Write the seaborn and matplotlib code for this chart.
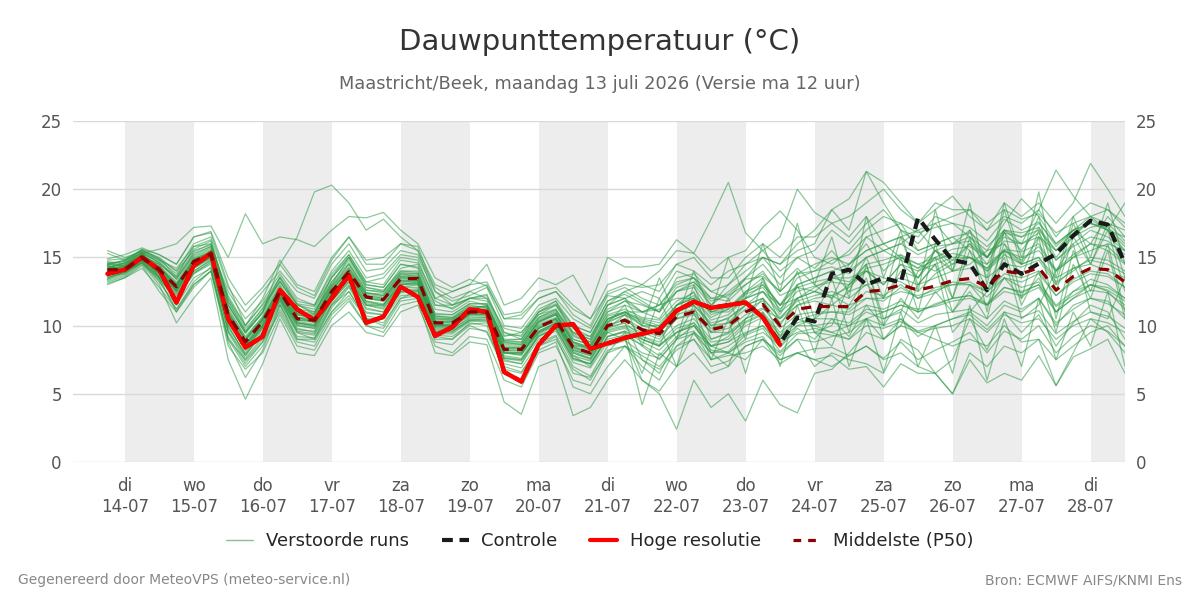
import numpy as np
import pandas as pd
import matplotlib
matplotlib.use("Agg")
import matplotlib.pyplot as plt
from matplotlib.lines import Line2D
import seaborn as sns

# -------------------------------
# Data (6-uurlijkse stappen, 13-07 18u t/m 28-07 12u)
# -------------------------------
times = pd.date_range("2026-07-13 18:00", periods=60, freq="6h")

# Hoge resolutie (loopt tot 23-07 12u)
hres = [13.8, 14.1, 15.0, 14.1, 11.7, 14.4, 15.3, 10.5, 8.4, 9.2,
        12.6, 11.2, 10.4, 12.0, 13.7, 10.2, 10.65, 12.85, 12.1, 9.25,
        9.9, 11.2, 11.0, 6.6, 5.9, 8.6, 10.0, 10.1, 8.3, 8.7,
        9.1, 9.4, 9.7, 11.1, 11.75, 11.3, 11.5, 11.7, 10.6, 8.6]

# Controle (eerste deel valt onder de HRES-lijn)
control = [13.8, 14.1, 15.0, 14.1, 11.7, 14.4, 15.3, 10.5, 8.4, 9.2,
           12.6, 11.2, 10.4, 12.0, 13.7, 10.2, 10.65, 12.85, 12.1, 9.25,
           9.9, 11.2, 11.0, 6.6, 5.9, 8.6, 10.0, 10.1, 8.3, 8.7,
           9.1, 9.4, 9.7, 11.1, 11.75, 11.3, 11.5, 11.7, 10.6, 8.7,
           10.6, 10.3, 13.8, 14.1, 13.0, 13.5, 13.15, 17.9, 16.3, 14.8,
           14.55, 12.6, 14.5, 13.8, 14.55, 15.25, 16.6, 17.7, 17.4, 14.55]

# Middelste (P50)
median = [14.1, 14.1, 15.0, 14.1, 12.85, 14.7, 15.25, 10.8, 8.8, 10.3,
          12.5, 10.5, 10.4, 12.5, 13.95, 12.1, 11.9, 13.45, 13.45, 10.2,
          10.2, 11.0, 11.0, 8.25, 8.25, 9.9, 10.45, 8.4, 8.0, 10.0,
          10.4, 9.7, 9.4, 10.65, 11.0, 9.7, 10.0, 11.0, 11.55, 10.0,
          11.2, 11.4, 11.4, 11.4, 12.5, 12.6, 13.0, 12.6, 12.9, 13.3,
          13.45, 12.85, 14.0, 13.8, 14.25, 12.6, 13.6, 14.2, 14.1, 13.2]

# Verstoorde runs (geschat uit de figuur)
perturbed = [
    [14.3, 14.5, 15.2, 14.4, 13.2, 15.0, 15.6, 11.3, 9.2, 10.6, 12.9, 10.9, 10.8, 13.0, 14.5, 12.6, 12.4, 13.9, 13.8, 10.7,
     10.6, 11.5, 11.3, 8.8, 8.6, 10.4, 10.9, 9.0, 8.6, 10.7, 11.0, 10.5, 10.2, 11.5, 12.0, 10.6, 11.2, 12.3, 12.8, 11.2,
     12.5, 12.9, 13.2, 13.0, 14.2, 14.5, 15.0, 14.2, 14.8, 15.3, 15.0, 14.2, 15.6, 15.4, 16.0, 14.1, 15.2, 16.0, 15.8, 14.6],
    [13.6, 13.8, 14.7, 13.5, 11.8, 13.9, 14.6, 9.5, 7.4, 8.8, 11.5, 9.2, 9.1, 11.3, 12.8, 10.7, 10.5, 12.2, 12.3, 9.3,
     9.2, 10.1, 10.2, 7.2, 6.9, 8.7, 9.3, 7.0, 6.3, 8.5, 8.9, 8.0, 7.6, 9.0, 9.4, 8.0, 8.1, 9.3, 9.8, 8.1,
     9.4, 9.5, 9.3, 9.0, 10.0, 9.8, 10.3, 9.6, 10.0, 10.5, 10.8, 9.7, 11.0, 10.6, 11.1, 9.4, 10.3, 11.0, 10.7, 9.8],
    [14.5, 14.8, 15.3, 15.6, 16.0, 17.2, 17.3, 15.0, 18.2, 16.0, 16.5, 16.3, 15.8, 17.0, 18.0, 17.9, 18.3, 17.0, 16.0, 13.5,
     12.8, 13.4, 12.9, 10.5, 10.8, 12.0, 12.5, 11.2, 10.5, 12.3, 12.8, 12.0, 11.5, 13.2, 13.5, 12.0, 12.3, 13.4, 13.6, 12.5,
     13.8, 14.0, 14.3, 13.8, 15.0, 15.5, 16.0, 15.2, 15.8, 16.0, 16.2, 15.0, 16.5, 16.0, 16.8, 14.8, 16.0, 17.0, 16.5, 15.5],
    [14.0, 14.3, 15.2, 14.0, 12.5, 14.9, 15.5, 11.5, 9.5, 11.0, 14.5, 16.5, 19.8, 20.3, 19.0, 17.0, 17.8, 16.5, 15.5, 12.0,
     11.5, 12.0, 12.3, 9.5, 9.2, 11.0, 11.6, 10.0, 9.5, 11.8, 12.3, 11.6, 11.0, 12.8, 13.2, 12.0, 11.8, 13.0, 14.0, 12.2,
     12.8, 12.5, 12.2, 11.5, 12.0, 11.8, 12.8, 12.0, 12.4, 13.2, 13.0, 12.1, 13.5, 12.8, 13.2, 11.5, 12.5, 13.4, 13.0, 12.0],
    [13.2, 13.6, 14.5, 13.0, 10.2, 12.0, 13.5, 7.5, 4.6, 7.2, 10.5, 8.0, 7.8, 10.0, 11.0, 9.5, 9.2, 11.0, 11.5, 8.5,
     8.0, 9.2, 9.0, 6.0, 5.5, 8.0, 8.5, 6.0, 5.6, 8.0, 8.5, 7.5, 6.8, 8.2, 9.0, 7.0, 7.4, 8.5, 9.0, 7.2,
     8.0, 8.3, 8.4, 7.8, 8.5, 7.6, 8.8, 7.5, 8.2, 8.8, 9.5, 8.0, 9.6, 9.0, 10.0, 8.0, 9.2, 10.0, 9.6, 8.5],
    [14.6, 14.3, 15.4, 14.8, 13.8, 15.6, 16.2, 12.0, 9.8, 11.2, 13.5, 11.5, 11.0, 13.0, 15.0, 12.8, 12.5, 14.2, 14.5, 11.5,
     11.5, 12.0, 12.2, 9.5, 9.0, 11.0, 11.8, 9.3, 8.8, 11.5, 12.0, 11.0, 10.5, 12.5, 12.8, 11.0, 11.5, 12.0, 13.0, 11.5,
     13.5, 14.0, 14.8, 15.2, 16.5, 17.0, 17.5, 16.8, 17.2, 17.5, 17.2, 16.2, 17.8, 17.0, 17.6, 15.8, 17.0, 17.5, 17.2, 16.0],
    [13.8, 14.0, 14.8, 13.8, 12.0, 14.2, 15.0, 10.0, 7.8, 9.5, 12.0, 10.0, 9.8, 11.8, 13.2, 11.2, 11.0, 12.8, 13.0, 9.8,
     9.8, 10.5, 10.6, 7.5, 7.2, 9.4, 10.0, 7.8, 7.0, 9.2, 9.5, 8.5, 7.5, 9.0, 10.0, 8.5, 8.0, 7.5, 9.0, 7.8,
     9.0, 7.0, 8.0, 7.5, 7.2, 6.5, 9.0, 8.2, 6.5, 7.5, 10.5, 8.2, 11.0, 9.5, 10.8, 8.5, 10.2, 11.5, 11.0, 9.0],
    [14.2, 14.6, 15.1, 14.5, 13.5, 15.2, 15.8, 12.5, 10.5, 11.8, 13.8, 12.0, 11.5, 14.0, 15.5, 13.5, 13.8, 15.2, 15.0, 12.5,
     11.8, 12.2, 12.8, 10.0, 9.8, 11.5, 12.0, 10.5, 9.8, 12.2, 12.0, 12.5, 12.0, 14.0, 13.5, 11.5, 13.0, 14.0, 15.0, 13.5,
     15.0, 14.2, 15.5, 14.0, 16.5, 15.5, 16.0, 17.0, 15.5, 14.8, 16.0, 14.5, 16.8, 15.5, 17.2, 15.0, 16.5, 17.8, 17.0, 15.5],
    [13.5, 13.9, 14.8, 13.6, 12.2, 14.0, 14.8, 9.8, 8.0, 9.8, 12.0, 9.8, 9.5, 12.0, 13.5, 11.5, 11.2, 13.0, 13.0, 9.5,
     9.6, 10.4, 10.5, 7.6, 7.5, 9.3, 9.8, 7.5, 7.2, 9.2, 9.6, 9.0, 8.5, 9.8, 10.2, 8.8, 9.0, 10.2, 10.8, 9.2,
     10.2, 10.5, 10.5, 10.2, 11.2, 11.0, 11.5, 11.2, 11.4, 11.8, 12.0, 11.5, 12.5, 12.2, 12.8, 11.0, 12.0, 12.6, 12.4, 11.5],
    [14.0, 14.2, 15.0, 13.8, 12.6, 14.4, 15.0, 10.5, 8.5, 10.2, 12.2, 10.2, 10.0, 12.2, 13.6, 11.8, 11.5, 13.0, 13.2, 10.0,
     10.0, 10.8, 10.8, 8.0, 8.0, 9.5, 10.2, 8.0, 7.5, 9.5, 9.0, 6.0, 5.0, 2.4, 6.0, 4.0, 5.0, 3.0, 6.0, 4.2,
     3.6, 6.5, 6.8, 8.0, 9.5, 9.0, 10.5, 9.2, 10.0, 10.5, 11.0, 10.0, 11.5, 11.0, 12.0, 10.0, 11.5, 12.0, 11.8, 10.5],
    [13.4, 13.8, 14.6, 13.2, 11.5, 13.5, 14.2, 9.0, 7.0, 8.5, 11.2, 9.0, 8.8, 11.0, 12.2, 10.5, 10.0, 12.0, 12.2, 9.0,
     9.0, 10.0, 9.5, 6.8, 6.5, 8.5, 9.0, 6.8, 6.0, 8.2, 8.5, 7.8, 7.0, 8.5, 9.0, 7.5, 7.8, 8.0, 8.5, 7.5,
     8.0, 7.5, 7.8, 6.8, 7.0, 5.5, 7.2, 6.5, 6.5, 5.0, 7.5, 5.8, 6.5, 6.0, 7.8, 5.6, 7.7, 8.3, 9.0, 6.5],
    [14.8, 14.9, 15.5, 15.0, 14.0, 16.0, 16.5, 12.8, 11.0, 12.5, 14.0, 12.5, 12.0, 14.5, 16.0, 14.0, 14.2, 15.5, 15.2, 12.8,
     12.0, 12.5, 13.0, 10.5, 10.5, 12.0, 12.5, 10.8, 10.0, 12.5, 13.0, 12.8, 13.0, 14.5, 14.0, 13.0, 14.0, 14.5, 15.0, 14.5,
     16.0, 17.0, 18.5, 17.0, 21.3, 20.5, 19.0, 17.5, 18.5, 19.5, 18.0, 17.0, 19.0, 18.0, 19.0, 17.5, 19.0, 21.9, 20.0, 18.0],
    [14.4, 14.0, 15.3, 14.2, 13.0, 14.8, 15.4, 11.0, 9.0, 10.5, 12.8, 10.8, 10.6, 12.6, 14.2, 12.2, 12.0, 13.6, 13.6, 10.4,
     10.4, 11.2, 11.2, 8.4, 8.4, 10.2, 10.8, 8.8, 8.2, 10.2, 11.5, 8.5, 12.0, 9.0, 13.0, 9.5, 12.0, 9.0, 13.5, 11.0,
     14.0, 10.5, 13.5, 9.5, 14.5, 10.0, 15.0, 11.0, 16.0, 12.0, 16.5, 11.0, 17.0, 12.0, 16.5, 10.5, 15.5, 12.5, 16.0, 11.0],
    [13.9, 14.2, 14.9, 14.3, 13.0, 14.5, 15.1, 10.6, 8.6, 10.0, 12.4, 10.6, 10.2, 12.3, 13.8, 12.0, 11.8, 13.3, 13.3, 10.1,
     10.1, 10.9, 11.0, 8.2, 8.1, 9.8, 10.5, 8.5, 8.0, 10.3, 10.8, 10.2, 9.8, 11.2, 11.8, 10.0, 10.2, 11.5, 12.0, 10.5,
     11.5, 12.0, 12.2, 12.8, 14.0, 13.5, 13.2, 12.5, 13.8, 14.5, 15.0, 14.0, 15.2, 14.5, 15.0, 13.5, 14.2, 14.5, 14.0, 13.5],
    [14.2, 14.4, 15.0, 14.0, 12.8, 14.6, 15.2, 10.9, 8.9, 10.4, 12.6, 10.6, 10.4, 12.7, 14.0, 12.3, 12.1, 13.5, 13.4, 10.5,
     10.4, 11.2, 11.5, 8.8, 8.8, 10.5, 11.0, 9.5, 9.0, 11.5, 12.5, 13.0, 14.0, 15.5, 15.3, 17.8, 20.5, 16.8, 15.5, 16.5,
     20.0, 18.3, 17.5, 16.5, 18.0, 16.0, 15.0, 14.5, 14.0, 14.8, 15.0, 14.2, 15.5, 14.5, 15.0, 13.2, 14.0, 15.0, 14.8, 14.0],
    [13.1, 13.5, 14.4, 12.5, 11.0, 12.8, 14.0, 8.5, 6.8, 8.0, 10.8, 8.5, 8.2, 10.5, 11.8, 10.0, 9.5, 11.5, 11.8, 8.0,
     7.8, 8.8, 8.6, 4.4, 3.5, 7.0, 7.5, 3.4, 4.0, 6.0, 7.5, 6.0, 5.2, 7.0, 8.0, 6.5, 7.0, 8.5, 9.0, 8.0,
     9.0, 8.8, 9.2, 9.5, 10.5, 11.0, 11.5, 11.0, 11.5, 12.0, 12.2, 11.5, 12.8, 12.5, 13.0, 11.0, 12.0, 13.0, 12.8, 12.0],
    [14.6, 14.7, 15.5, 14.8, 14.2, 15.8, 16.0, 12.2, 10.0, 11.5, 13.2, 11.5, 11.2, 13.5, 15.0, 13.0, 12.8, 14.5, 14.2, 11.2,
     11.0, 11.8, 11.5, 9.0, 9.0, 10.8, 11.2, 9.2, 8.8, 11.0, 11.8, 11.0, 11.2, 12.5, 13.0, 11.5, 12.5, 13.5, 15.0, 14.5,
     15.5, 16.0, 18.5, 19.3, 21.3, 19.0, 17.0, 16.0, 17.5, 16.0, 17.0, 15.0, 16.8, 16.5, 17.0, 15.5, 16.5, 17.2, 17.5, 16.2],
    [13.7, 14.0, 14.7, 13.7, 12.4, 14.2, 14.9, 10.2, 8.2, 9.9, 12.0, 10.0, 9.8, 12.0, 13.3, 11.5, 11.3, 12.8, 12.8, 9.7,
     9.7, 10.6, 10.6, 7.8, 7.6, 9.5, 10.1, 7.8, 7.4, 9.5, 9.8, 9.0, 8.5, 9.5, 10.0, 8.5, 8.8, 9.5, 10.0, 8.8,
     9.5, 9.8, 9.5, 10.0, 10.5, 10.0, 10.5, 9.5, 9.8, 10.0, 10.5, 9.5, 10.8, 10.2, 10.5, 9.0, 10.0, 10.5, 10.2, 9.5],
    [14.0, 14.1, 15.1, 14.2, 13.0, 14.8, 15.3, 11.0, 9.0, 10.5, 12.7, 10.8, 10.6, 12.8, 14.2, 12.4, 12.2, 13.7, 13.7, 10.6,
     10.5, 11.3, 11.4, 8.6, 8.6, 10.3, 10.8, 8.8, 8.4, 10.5, 10.9, 10.4, 10.0, 11.5, 12.2, 11.0, 11.3, 12.5, 13.0, 11.5,
     13.0, 13.5, 14.0, 14.5, 15.5, 16.0, 16.5, 17.0, 17.5, 18.0, 18.5, 17.5, 18.5, 17.8, 18.2, 16.8, 17.5, 18.0, 18.5, 17.2],
    [13.5, 13.9, 14.8, 13.9, 12.7, 14.3, 15.0, 10.3, 8.4, 9.8, 12.1, 10.1, 9.9, 12.1, 13.4, 11.6, 11.4, 13.0, 13.1, 9.9,
     9.9, 10.7, 10.7, 8.0, 7.9, 9.6, 10.2, 8.0, 7.6, 9.6, 9.9, 9.2, 8.6, 9.5, 10.0, 8.2, 8.0, 8.8, 9.2, 7.5,
     8.0, 7.5, 7.0, 7.8, 8.5, 7.5, 8.0, 7.0, 6.5, 5.0, 8.0, 7.0, 8.5, 8.0, 9.0, 7.5, 8.5, 9.5, 10.0, 8.5],
    [14.1, 14.2, 15.0, 14.2, 12.9, 14.6, 15.2, 10.8, 8.7, 10.3, 12.4, 10.4, 10.3, 12.4, 13.9, 12.0, 11.9, 13.4, 13.4, 10.2,
     10.3, 11.1, 11.1, 8.3, 8.3, 10.0, 10.5, 8.4, 8.0, 10.0, 10.5, 9.8, 9.5, 10.8, 11.2, 9.8, 10.2, 11.2, 11.8, 10.2,
     11.5, 11.8, 11.5, 11.2, 12.5, 12.2, 13.0, 12.0, 12.8, 13.0, 13.2, 12.5, 13.8, 13.5, 14.0, 12.2, 13.4, 14.0, 13.8, 12.8],
    [14.3, 14.6, 15.3, 14.6, 13.6, 15.4, 16.0, 11.8, 9.6, 11.0, 13.6, 11.8, 11.5, 13.8, 15.2, 13.2, 13.0, 14.8, 14.6, 12.0,
     12.5, 13.0, 14.5, 11.5, 12.0, 13.5, 13.0, 13.7, 11.5, 15.0, 14.3, 14.3, 14.5, 16.3, 15.3, 14.0, 15.0, 15.5, 17.2, 18.4,
     17.0, 15.0, 14.5, 15.5, 17.0, 18.0, 17.5, 15.5, 16.0, 16.5, 15.5, 14.0, 15.5, 14.8, 15.8, 14.0, 15.0, 16.0, 15.5, 14.5],
    [13.3, 13.7, 14.6, 13.4, 12.0, 13.8, 14.5, 9.6, 7.6, 9.2, 11.6, 9.5, 9.3, 11.5, 12.9, 10.9, 10.8, 12.4, 12.6, 9.4,
     9.4, 10.3, 10.3, 7.4, 7.2, 9.0, 9.6, 7.3, 6.9, 8.8, 9.2, 8.6, 7.8, 9.2, 9.6, 8.0, 8.5, 9.4, 10.0, 8.4,
     9.8, 9.0, 10.5, 9.2, 11.5, 10.0, 12.0, 10.5, 12.5, 11.0, 13.0, 11.5, 13.5, 12.0, 13.5, 11.0, 12.5, 13.0, 12.5, 11.2],
    [14.7, 14.5, 15.6, 15.2, 14.5, 16.5, 16.8, 13.0, 10.0, 12.0, 14.8, 13.0, 12.5, 15.0, 16.5, 14.8, 15.0, 16.0, 15.8, 12.5,
     11.5, 12.5, 12.0, 9.8, 9.5, 11.2, 11.8, 10.0, 9.5, 11.8, 12.5, 11.8, 11.0, 13.5, 13.8, 12.5, 12.0, 13.5, 14.5, 13.0,
     14.2, 13.0, 12.0, 14.5, 16.0, 14.0, 15.2, 13.5, 15.5, 14.0, 17.0, 13.5, 19.0, 15.0, 18.0, 13.0, 17.5, 14.5, 17.0, 12.5],
    [13.8, 14.0, 14.9, 13.9, 12.6, 14.4, 15.1, 10.4, 8.5, 10.0, 12.3, 10.3, 10.1, 12.3, 13.7, 11.8, 11.6, 13.2, 13.2, 10.0,
     10.0, 10.9, 10.9, 8.1, 8.0, 9.8, 10.3, 8.2, 7.8, 9.8, 10.2, 9.2, 8.8, 10.0, 10.5, 9.0, 9.4, 10.3, 10.9, 9.3,
     10.4, 10.8, 11.0, 10.8, 11.5, 11.2, 11.8, 11.0, 11.6, 12.0, 12.2, 11.6, 12.8, 12.4, 13.0, 11.4, 12.2, 13.0, 12.6, 11.8],
    [14.5, 14.4, 15.4, 14.6, 13.4, 15.1, 15.7, 11.6, 9.4, 11.0, 13.3, 11.2, 11.0, 13.2, 14.8, 12.8, 12.6, 14.0, 14.0, 10.9,
     10.8, 11.6, 11.6, 8.9, 8.8, 10.6, 11.1, 9.0, 8.6, 10.8, 11.2, 10.6, 10.4, 11.8, 12.4, 10.8, 11.2, 12.4, 13.2, 11.5,
     12.8, 13.2, 13.5, 13.2, 14.5, 14.8, 15.2, 14.5, 15.0, 15.6, 15.8, 15.0, 16.2, 16.0, 16.5, 14.8, 15.8, 16.5, 16.2, 15.2],
    [13.9, 14.3, 15.0, 14.0, 12.7, 14.5, 15.2, 10.6, 8.6, 10.2, 12.4, 10.4, 10.3, 12.4, 13.8, 12.0, 11.8, 13.3, 13.3, 10.1,
     10.1, 10.9, 10.9, 8.2, 8.2, 9.8, 10.4, 8.3, 7.9, 9.9, 10.2, 7.5, 6.5, 9.0, 11.5, 8.0, 7.0, 10.5, 12.0, 9.0,
     13.0, 9.5, 8.5, 11.5, 13.5, 9.0, 10.0, 13.0, 14.5, 9.5, 11.0, 12.5, 15.0, 10.5, 11.5, 14.0, 16.0, 11.0, 10.5, 13.5],
    [14.4, 14.1, 15.2, 14.3, 13.1, 14.9, 15.4, 11.2, 9.1, 10.7, 12.8, 10.9, 10.7, 12.9, 14.3, 12.4, 12.3, 13.8, 13.8, 10.7,
     10.6, 11.4, 11.4, 8.7, 8.7, 10.3, 10.9, 8.8, 8.4, 10.5, 11.0, 10.0, 10.0, 11.0, 11.5, 10.2, 10.5, 11.5, 12.0, 10.6,
     11.8, 12.2, 12.5, 12.0, 13.0, 13.2, 13.5, 13.0, 13.5, 14.0, 14.2, 13.5, 14.5, 14.3, 14.8, 13.0, 14.2, 14.8, 14.5, 13.8],
    [13.6, 14.0, 14.7, 13.6, 12.3, 14.0, 14.8, 10.0, 7.9, 9.6, 11.8, 9.7, 9.6, 11.8, 13.2, 11.3, 11.0, 12.6, 12.7, 9.6,
     9.6, 10.4, 10.4, 7.7, 7.5, 9.2, 9.8, 7.6, 7.2, 9.0, 9.3, 4.2, 8.0, 7.0, 9.5, 8.5, 9.2, 10.5, 11.2, 10.5,
     12.0, 12.8, 13.5, 14.0, 15.0, 15.5, 14.8, 14.2, 15.5, 16.0, 16.5, 15.0, 17.0, 16.5, 17.5, 16.0, 17.0, 17.5, 17.0, 15.8],
    [14.2, 14.3, 15.1, 14.1, 12.9, 14.7, 15.3, 10.9, 8.9, 10.4, 12.5, 10.5, 10.4, 12.6, 14.0, 12.1, 11.9, 13.5, 13.5, 10.3,
     10.2, 11.0, 11.0, 8.3, 8.3, 9.9, 10.5, 8.4, 8.0, 10.0, 10.4, 9.6, 9.2, 10.5, 10.8, 9.5, 9.8, 10.8, 11.3, 9.8,
     10.8, 11.0, 11.0, 11.0, 12.0, 12.0, 12.5, 12.2, 12.6, 13.0, 13.0, 12.5, 13.5, 13.2, 13.8, 12.2, 13.2, 13.8, 13.6, 12.8],
    [15.3, 14.8, 15.6, 14.9, 13.6, 15.8, 16.3, 11.8, 9.6, 11.3, 13.2, 11.6, 10.8, 13.6, 15.2, 13.2, 13.5, 15.0, 14.8, 11.8,
     11.2, 12.0, 11.8, 9.2, 9.5, 10.8, 11.5, 9.8, 9.2, 11.5, 12.0, 10.0, 13.5, 10.5, 14.0, 11.0, 15.0, 12.0, 16.0, 12.5,
     17.5, 13.0, 16.5, 12.0, 18.0, 13.5, 17.0, 12.5, 18.5, 14.0, 19.0, 13.0, 18.5, 14.5, 19.8, 13.5, 18.0, 15.0, 19.0, 14.5],
    [13.0, 13.5, 14.2, 12.8, 11.2, 13.0, 14.0, 9.2, 7.2, 8.8, 11.0, 8.8, 8.5, 10.8, 12.0, 10.0, 9.8, 11.8, 12.0, 8.8,
     8.6, 9.8, 9.6, 7.0, 6.6, 8.5, 9.2, 6.5, 6.2, 8.0, 9.5, 6.5, 10.0, 7.0, 11.0, 7.5, 10.5, 6.5, 11.0, 7.0,
     11.5, 8.0, 12.0, 7.0, 10.5, 6.6, 11.0, 7.0, 10.0, 6.5, 11.5, 6.0, 10.5, 7.0, 12.0, 7.5, 11.0, 8.5, 12.5, 7.0],
    [14.9, 15.2, 15.7, 15.2, 14.5, 16.5, 16.9, 13.5, 11.5, 12.8, 14.5, 12.8, 12.2, 14.8, 16.5, 14.5, 14.5, 16.0, 15.5, 13.0,
     12.5, 13.0, 13.2, 10.8, 11.0, 12.5, 12.8, 11.5, 10.5, 13.0, 13.5, 13.0, 12.5, 14.5, 15.0, 13.5, 13.5, 15.0, 16.0, 15.0,
     16.5, 16.5, 17.5, 18.0, 19.0, 20.0, 18.5, 17.5, 19.0, 18.5, 18.5, 17.0, 18.0, 17.5, 18.5, 16.5, 18.0, 19.0, 18.5, 17.5],
    [13.4, 14.0, 14.6, 13.3, 11.2, 13.2, 14.3, 8.8, 6.2, 8.2, 11.5, 9.0, 9.0, 11.5, 12.5, 10.5, 10.2, 12.0, 12.5, 9.2,
     9.0, 10.2, 10.0, 6.5, 5.8, 8.2, 8.8, 5.5, 5.0, 7.0, 8.5, 7.0, 6.0, 8.5, 9.5, 7.5, 8.0, 9.0, 9.5, 8.5,
     10.0, 10.5, 11.5, 12.5, 13.0, 12.0, 14.0, 13.5, 15.0, 14.0, 14.5, 15.5, 16.0, 14.5, 16.5, 15.5, 17.0, 16.0, 18.0, 16.5],
    [14.0, 14.4, 15.1, 14.5, 12.5, 14.5, 15.0, 10.5, 8.2, 10.0, 12.3, 10.2, 10.0, 12.3, 13.5, 11.5, 11.5, 13.2, 13.3, 10.0,
     10.0, 10.8, 10.8, 8.0, 7.8, 9.8, 10.5, 8.2, 7.8, 9.8, 10.8, 9.0, 8.5, 11.5, 12.5, 9.0, 9.5, 12.5, 13.5, 10.0,
     12.0, 9.5, 10.0, 13.0, 14.5, 10.5, 11.0, 14.0, 15.0, 11.0, 12.5, 10.5, 15.5, 11.5, 14.0, 9.5, 14.5, 12.0, 15.5, 10.5],
    [14.5, 14.7, 15.3, 14.7, 13.4, 15.3, 15.8, 11.5, 9.5, 10.9, 13.0, 11.0, 10.9, 13.2, 14.6, 12.6, 12.5, 14.0, 13.9, 10.8,
     10.8, 11.6, 11.6, 8.9, 9.0, 10.6, 11.2, 9.4, 9.0, 11.0, 11.5, 11.0, 11.5, 13.0, 13.5, 12.5, 13.0, 14.5, 15.5, 14.0,
     15.0, 15.5, 17.0, 16.0, 17.5, 18.5, 17.0, 16.5, 18.0, 17.5, 16.5, 15.5, 17.5, 19.3, 18.0, 16.0, 17.0, 18.0, 17.0, 19.0],
    [13.7, 13.9, 14.6, 13.5, 12.0, 13.8, 14.7, 9.6, 7.8, 9.5, 11.8, 9.6, 9.4, 11.6, 13.0, 11.0, 10.8, 12.5, 12.6, 9.5,
     9.5, 10.4, 10.4, 7.6, 7.4, 9.2, 9.8, 7.6, 7.2, 9.2, 9.6, 8.8, 8.2, 9.5, 10.2, 8.5, 8.8, 10.0, 10.6, 9.0,
     10.0, 10.0, 10.2, 10.0, 11.0, 10.5, 11.2, 10.2, 10.8, 11.0, 11.2, 10.5, 11.8, 11.2, 12.0, 10.2, 11.2, 12.0, 11.6, 10.8],
    [14.4, 14.8, 15.5, 14.9, 14.0, 15.5, 15.9, 12.0, 10.0, 11.6, 13.5, 11.6, 11.4, 13.5, 15.0, 13.0, 12.8, 14.5, 14.3, 11.5,
     11.3, 12.0, 12.0, 9.3, 9.3, 11.0, 11.5, 9.5, 9.2, 11.2, 11.8, 11.5, 11.0, 12.5, 13.2, 11.8, 12.2, 13.0, 13.8, 12.5,
     13.8, 14.5, 15.0, 14.5, 15.5, 16.0, 16.5, 15.5, 16.0, 16.5, 16.8, 15.8, 17.0, 16.8, 17.2, 15.5, 16.8, 17.5, 17.0, 16.5],
    [14.1, 14.4, 15.2, 14.3, 13.0, 14.8, 15.4, 11.0, 9.0, 10.5, 12.6, 10.6, 10.5, 12.6, 14.0, 12.2, 12.0, 13.6, 13.5, 10.3,
     10.3, 11.1, 11.2, 8.4, 8.4, 10.1, 10.6, 8.6, 8.2, 10.2, 10.8, 10.0, 9.6, 11.0, 11.5, 10.0, 10.6, 11.5, 12.5, 11.0,
     12.0, 12.5, 12.0, 13.0, 14.0, 13.0, 14.5, 13.5, 15.5, 14.5, 16.0, 15.0, 17.0, 16.0, 18.5, 21.4, 19.5, 18.0, 17.5, 17.0],
    [13.8, 14.1, 14.9, 13.8, 12.5, 14.3, 15.0, 10.4, 8.4, 10.0, 12.2, 10.2, 10.0, 12.2, 13.6, 11.7, 11.5, 13.1, 13.1, 9.9,
     9.9, 10.8, 10.8, 8.0, 7.9, 9.6, 10.2, 8.1, 7.6, 9.7, 10.0, 9.5, 9.0, 10.5, 11.0, 9.5, 9.5, 10.5, 11.0, 9.5,
     10.5, 10.0, 9.5, 9.0, 10.5, 9.0, 10.0, 9.5, 9.0, 8.5, 9.0, 8.5, 10.0, 8.8, 9.0, 5.6, 8.0, 10.5, 9.5, 8.0],
    [15.5, 15.0, 15.4, 13.5, 11.0, 13.0, 14.0, 9.0, 7.5, 9.0, 12.0, 9.5, 9.0, 11.0, 12.5, 10.5, 10.5, 12.5, 12.5, 9.5,
     10.0, 11.0, 11.0, 8.0, 8.0, 9.5, 10.0, 8.5, 8.5, 10.5, 11.0, 11.0, 11.5, 12.0, 12.0, 11.0, 11.0, 12.0, 12.5, 11.5,
     12.0, 12.5, 13.5, 13.5, 14.0, 13.0, 14.5, 14.0, 14.5, 15.0, 15.0, 14.5, 15.5, 15.0, 15.5, 14.0, 15.0, 15.5, 16.0, 15.5],
    [14.2, 14.6, 15.0, 14.0, 12.8, 14.6, 15.5, 11.0, 8.5, 10.5, 12.6, 10.8, 10.5, 12.8, 14.5, 12.4, 12.2, 13.8, 13.6, 10.5,
     10.5, 11.3, 11.3, 8.5, 8.5, 10.3, 10.8, 8.7, 8.3, 10.4, 11.0, 10.3, 9.8, 11.5, 12.0, 10.4, 10.8, 12.0, 12.5, 10.8,
     13.0, 13.5, 14.0, 12.5, 15.0, 12.0, 16.5, 13.0, 14.5, 12.0, 15.5, 12.5, 16.0, 13.5, 17.0, 12.5, 16.5, 14.5, 17.5, 13.5],
]

tick_labels = ["di\n14-07", "wo\n15-07", "do\n16-07", "vr\n17-07", "za\n18-07",
               "zo\n19-07", "ma\n20-07", "di\n21-07", "wo\n22-07", "do\n23-07",
               "vr\n24-07", "za\n25-07", "zo\n26-07", "ma\n27-07", "di\n28-07"]
tick_days = pd.date_range("2026-07-14", periods=15, freq="D")
shaded_days = pd.date_range("2026-07-14", periods=8, freq="2D")

# -------------------------------
# Styling
# -------------------------------
sns.set_style("white")
plt.rcParams["font.family"] = ["DejaVu Sans"]

green = "#2e9b47"
fig = plt.figure(figsize=(12, 6), dpi=100)
ax = fig.add_axes([0.0608, 0.23, 0.8767, 0.5683])

x_start = pd.Timestamp("2026-07-13 06:00")
x_end = times[-1]

for d in shaded_days:
    ax.axvspan(d, min(d + pd.Timedelta(days=1), x_end), color="#ededed", lw=0, zorder=0)

# verstoorde runs in long-form
runs = pd.concat([pd.DataFrame({"time": times, "value": vals, "member": m})
                  for m, vals in enumerate(perturbed)])
sns.lineplot(data=runs, x="time", y="value", units="member", estimator=None,
             color=green, lw=0.9, alpha=0.55, legend=False, ax=ax, zorder=2)

sns.lineplot(x=times, y=control, color="#1a1a1a", lw=3, linestyle=(0, (2.6, 1.6)),
             ax=ax, zorder=3)
sns.lineplot(x=times[:len(hres)], y=hres, color="#ff0000", lw=3.2, ax=ax, zorder=4)
sns.lineplot(x=times, y=median, color="#8b0000", lw=2.3, linestyle=(0, (3.2, 2.6)),
             ax=ax, zorder=5)

ax.set_xlim(x_start, x_end)
ax.set_ylim(0, 25)
ax.set_yticks([0, 5, 10, 15, 20, 25])
ax.set_xticks(tick_days)
ax.set_xticklabels(tick_labels)
ax.set_xlabel("")
ax.set_ylabel("")
ax.grid(axis="y", color="#d9d9d9", lw=1)
ax.set_axisbelow(True)
for s in ax.spines.values():
    s.set_visible(False)
ax.tick_params(axis="x", length=7, width=1.5, color="#666666", labelcolor="#555555",
               labelsize=12, pad=4)
ax.tick_params(axis="y", length=0, labelcolor="#555555", labelsize=12, pad=8)

ax2 = ax.twinx()
ax2.set_ylim(0, 25)
ax2.set_yticks([0, 5, 10, 15, 20, 25])
for s in ax2.spines.values():
    s.set_visible(False)
ax2.tick_params(axis="y", length=0, labelcolor="#555555", labelsize=12, pad=8)

fig.text(0.5, 0.93, "Dauwpunttemperatuur (°C)", ha="center", va="center",
         fontsize=21, color="#333333")
fig.text(0.5, 0.86, "Maastricht/Beek, maandag 13 juli 2026 (Versie ma 12 uur)",
         ha="center", va="center", fontsize=12.8, color="#666666")

handles = [
    Line2D([], [], color=green, lw=1, alpha=0.6),
    Line2D([], [], color="#1a1a1a", lw=3, linestyle=(0, (2.6, 1.6))),
    Line2D([], [], color="#ff0000", lw=3),
    Line2D([], [], color="#8b0000", lw=2.3, linestyle=(0, (2.4, 2.2))),
]
labels = ["Verstoorde runs", "Controle", "Hoge resolutie", "Middelste (P50)"]
fig.legend(handles, labels, loc="center", bbox_to_anchor=(0.5, 0.098), ncol=4,
           frameon=False, fontsize=13, handlelength=1.5, columnspacing=1.8,
           handletextpad=0.7)

fig.text(0.015, 0.033, "Gegenereerd door MeteoVPS (meteo-service.nl)", ha="left",
         va="center", fontsize=10, color="#888888")
fig.text(0.985, 0.033, "Bron: ECMWF AIFS/KNMI Ens", ha="right", va="center",
         fontsize=10, color="#888888")

fig.savefig("out.png", dpi=100)
